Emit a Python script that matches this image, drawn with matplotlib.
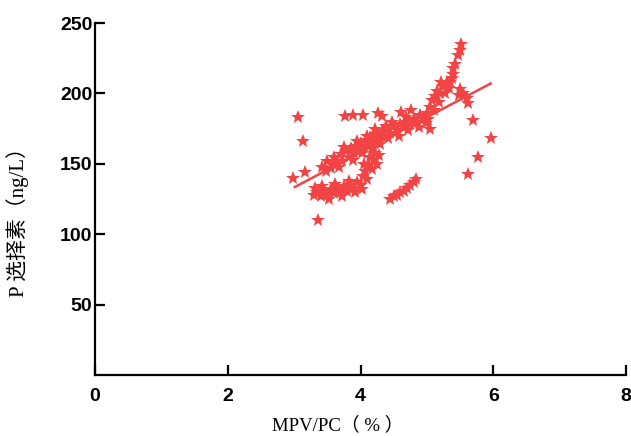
import numpy as np
import matplotlib
matplotlib.use('Agg')
import matplotlib.pyplot as plt

# Datos (MPV/PC %, P-selectina ng/L)
banda_sup_x = [3.42, 3.50, 3.55, 3.60, 3.65, 3.70, 3.72, 3.78, 3.82, 3.85, 3.90, 3.93,
               3.97, 4.00, 4.05, 4.08, 4.12, 4.15, 4.20, 4.24, 4.28, 4.32, 4.36, 4.40,
               4.45, 4.50, 4.55, 4.60, 4.65, 4.70, 4.75, 4.80, 4.85, 4.90, 4.95, 5.00,
               5.05, 5.08, 5.12, 5.15, 5.20, 5.25, 5.30, 5.33, 5.38, 5.40,
               3.48, 3.58, 3.68, 3.75, 3.88, 3.95, 4.02, 4.10, 4.18, 4.22, 4.30, 4.38,
               4.42, 4.48, 4.58, 4.68, 4.72, 4.88, 4.98, 5.02, 5.10, 5.18, 5.22, 5.28,
               5.35]
banda_sup_y = [148, 152, 147, 155, 151, 157, 152, 159, 155, 161, 158, 163,
               160, 165, 162, 167, 164, 169, 166, 171, 168, 173, 170, 175,
               172, 177, 174, 178, 176, 180, 178, 182, 180, 184, 182, 186,
               190, 195, 198, 202, 200, 205, 208, 204, 211, 214,
               145, 150, 148, 162, 153, 166, 158, 170, 161, 175, 164, 177,
               168, 180, 170, 183, 174, 176, 179, 182, 188, 194, 208, 200,
               208]

banda_inf_x = [3.30, 3.35, 3.40, 3.45, 3.50, 3.55, 3.60, 3.65, 3.70, 3.75, 3.80, 3.85,
               3.90, 3.95, 4.00, 4.03, 4.07, 4.10, 4.13, 4.17, 4.20, 4.25, 4.28,
               3.32, 3.42, 3.52, 3.62, 3.72, 3.82, 3.92, 4.02, 4.05, 4.15, 4.22]
banda_inf_y = [128, 130, 127, 131, 128, 132, 129, 133, 130, 134, 131, 135,
               133, 137, 135, 141, 145, 139, 149, 146, 153, 150, 156,
               133, 134, 125, 136, 127, 138, 130, 132, 150, 155, 158]

grupo_der_x = [4.45, 4.50, 4.55, 4.60, 4.65, 4.70, 4.75, 4.80, 4.83]
grupo_der_y = [125, 127, 128, 130, 131, 133, 135, 137, 139]

sueltos_x = [3.77, 3.89, 4.04, 4.27, 4.32, 4.61, 4.76,
             3.06, 3.14, 3.16, 2.99, 3.36, 5.70, 5.97, 5.77, 5.62, 5.05, 4.89,
             5.40, 5.42, 5.47, 5.52, 5.50, 5.50, 5.55, 5.60, 5.62, 5.48]
sueltos_y = [184, 185, 185, 186, 184, 187, 188,
             183, 166, 144, 140, 110, 181, 168, 155, 143, 175, 185,
             218, 221, 227, 235, 231, 203, 200, 197, 193, 199]

# Recta de regresión
recta_x = [3.01, 5.96]
recta_y = [133.5, 207.0]

x_ticks = [0, 2, 4, 6, 8]
y_ticks = [50, 100, 150, 200, 250]

COLOR_PUNTOS = '#f24444'

pts_x = np.array(banda_sup_x + banda_inf_x + grupo_der_x + sueltos_x)
pts_y = np.array(banda_sup_y + banda_inf_y + grupo_der_y + sueltos_y)

fig = plt.figure(figsize=(6.31, 4.36), dpi=100)
ax = fig.add_axes([0.1506, 0.1399, 0.8415, 0.8073])

ax.plot(recta_x, recta_y, color=COLOR_PUNTOS, linewidth=1.8, zorder=2)
ax.plot(pts_x, pts_y, linestyle='none', marker='*', markersize=10.5,
        color=COLOR_PUNTOS, markeredgewidth=0, zorder=3)

ax.set_xlim(0, 8)
ax.set_ylim(0, 250)
ax.set_xticks(x_ticks)
ax.set_yticks(y_ticks)

for s in ['top', 'right']:
    ax.spines[s].set_visible(False)
for s in ['left', 'bottom']:
    ax.spines[s].set_linewidth(1.6)

ax.tick_params(direction='in', length=7, width=1.6)
ax.tick_params(axis='x', pad=9)
ax.tick_params(axis='y', pad=2)
for lab in ax.get_xticklabels() + ax.get_yticklabels():
    lab.set_fontfamily('Liberation Sans')
    lab.set_fontweight('bold')
    lab.set_fontsize(14)

fuente = ['Liberation Serif', 'Noto Sans CJK SC']
ax.set_xlabel('MPV/PC（ % ）', family=fuente, fontsize=13.5)
ax.set_ylabel('P 选择素（ng/L）', family=fuente, fontsize=15)
ax.xaxis.set_label_coords(0.458, -0.118)
ax.yaxis.set_label_coords(-0.124, 0.45)

fig.savefig('out.png', dpi=100)
